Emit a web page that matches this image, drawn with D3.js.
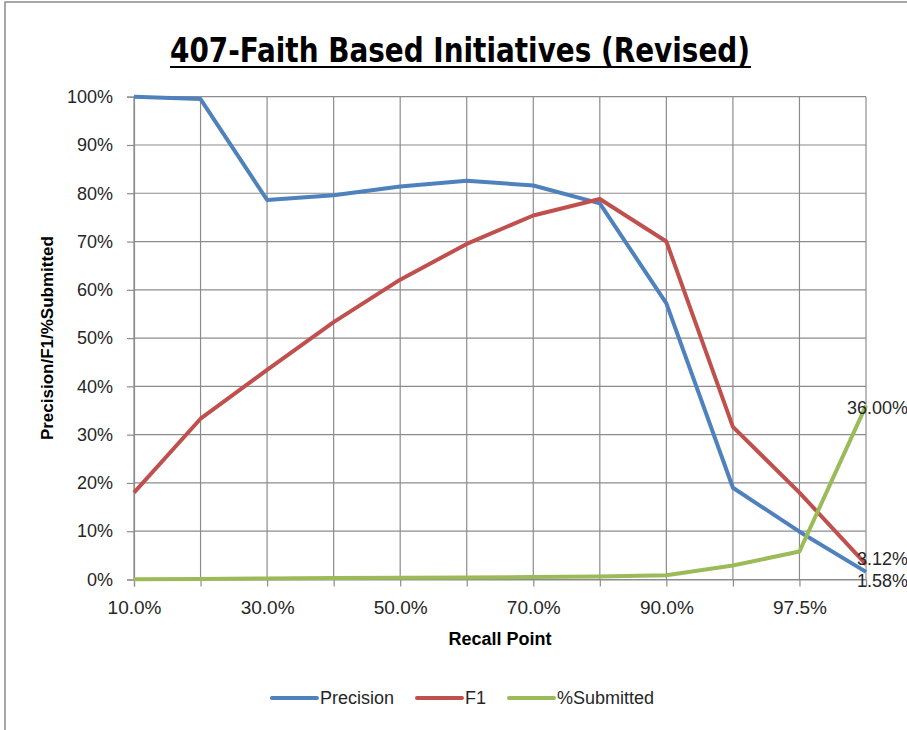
<!DOCTYPE html>
<html>
<head>
<meta charset="utf-8">
<script src="https://cdn.jsdelivr.net/npm/d3@7"></script>
<style>
  body { margin: 0; background: #fff; }
  svg { display: block; font-family: "Liberation Sans", Arial, sans-serif; }
</style>
</head>
<body>
<svg width="907" height="730"></svg>
<script>
// Data (values in %)
var categories = ["10.0%", "20.0%", "30.0%", "40.0%", "50.0%", "60.0%", "70.0%", "80.0%", "90.0%", "95.0%", "97.5%", "100.0%"];
var precision = [100, 99.5, 78.6, 79.6, 81.4, 82.6, 81.6, 77.9, 57.2, 19.0, 9.9, 1.58];
var f1 = [18.0, 33.3, 43.4, 53.3, 62.1, 69.5, 75.4, 78.8, 70.0, 31.6, 18.0, 3.12];
var submitted = [0.06, 0.12, 0.22, 0.29, 0.36, 0.42, 0.50, 0.60, 0.90, 2.9, 5.8, 36.0];
var seriesNames = ["Precision", "F1", "%Submitted"];
var seriesColors = ["#4F81BD", "#C0504D", "#9BBB59"];
var yTicks = [0, 10, 20, 30, 40, 50, 60, 70, 80, 90, 100];

(function () {
    var svg = d3.select("svg");
    var width = +svg.attr("width"), height = +svg.attr("height");
    var margin = {top: 96.7, right: 41, bottom: 150.5, left: 134};
    var plotW = width - margin.left - margin.right,
        plotH = height - margin.top - margin.bottom;

    //cadre gris du graphique
    svg.append("rect")
        .attr("x", 5).attr("y", 2)
        .attr("width", width + 10).attr("height", height + 10)
        .attr("fill", "#fff")
        .attr("stroke", "#8c8c8c").attr("stroke-width", 1.5);

    //titre souligné
    svg.append("text")
        .attr("x", 460).attr("y", 62)
        .attr("text-anchor", "middle")
        .attr("font-family", "'Liberation Sans Narrow', 'DejaVu Sans Condensed', sans-serif")
        .attr("font-weight", "bold")
        .attr("font-size", 33)
        .attr("textLength", 580)
        .attr("lengthAdjust", "spacingAndGlyphs")
        .text("407-Faith Based Initiatives (Revised)");
    svg.append("line")
        .attr("x1", 170).attr("x2", 751)
        .attr("y1", 67).attr("y2", 67)
        .attr("stroke", "#000").attr("stroke-width", 2.2);

    var g = svg.append("g")
        .attr("transform", "translate(" + margin.left + "," + margin.top + ")");

    var x = d3.scalePoint().domain(categories).range([0, plotW]);
    var y = d3.scaleLinear().domain([0, 100]).range([plotH, 0]);

    //grille
    g.append("g").selectAll("line")
        .data(yTicks)
        .join("line")
        .attr("x1", 0).attr("x2", plotW)
        .attr("y1", d => y(d)).attr("y2", d => y(d))
        .attr("stroke", "#8c8c8c").attr("stroke-width", 1.2);
    g.append("g").selectAll("line")
        .data(categories)
        .join("line")
        .attr("x1", d => x(d)).attr("x2", d => x(d))
        .attr("y1", 0).attr("y2", plotH)
        .attr("stroke", "#8c8c8c").attr("stroke-width", 1.2);

    //axes
    var axeY = g.append("g")
        .call(d3.axisLeft(y).tickValues(yTicks).tickFormat(d => d + "%").tickSize(7).tickPadding(14));
    var axeX = g.append("g")
        .attr("transform", "translate(0," + plotH + ")")
        .call(d3.axisBottom(x).tickSize(7).tickPadding(14.5)
            .tickFormat((d, i) => i % 2 === 0 ? d : ""));
    [axeX, axeY].forEach(a => {
        a.select(".domain").attr("stroke", "#8c8c8c").attr("stroke-width", 1.2);
        a.selectAll(".tick line").attr("stroke", "#8c8c8c").attr("stroke-width", 1.2);
        a.selectAll("text").attr("fill", "#262626")
            .attr("font-family", "'Liberation Sans', Arial, sans-serif");
    });
    axeY.selectAll("text").attr("font-size", 18);
    axeX.selectAll("text").attr("font-size", 19);

    //titres des axes
    svg.append("text")
        .attr("x", margin.left + plotW / 2).attr("y", 645)
        .attr("text-anchor", "middle")
        .attr("font-weight", "bold").attr("font-size", 18)
        .text("Recall Point");
    svg.append("text")
        .attr("transform", "translate(53," + (margin.top + plotH / 2) + ") rotate(-90)")
        .attr("text-anchor", "middle")
        .attr("font-weight", "bold").attr("font-size", 17)
        .text("Precision/F1/%Submitted");

    //courbes
    var series = [precision, f1, submitted];
    var line = d3.line()
        .x((d, i) => x(categories[i]))
        .y(d => y(d));
    g.append("g").selectAll("path")
        .data(series)
        .join("path")
        .attr("d", line)
        .attr("fill", "none")
        .attr("stroke", (d, i) => seriesColors[i])
        .attr("stroke-width", 4)
        .attr("stroke-linejoin", "round");

    //étiquettes du dernier point, calées sur le bord droit
    var last = categories.length - 1;
    svg.append("g").selectAll("text")
        .data(series)
        .join("text")
        .attr("x", width + 1)
        .attr("y", d => margin.top + y(d[last]))
        .attr("dy", (d, i) => i === 0 ? "0.85em" : (i === 1 ? "0.05em" : "0.45em"))
        .attr("text-anchor", "end")
        .attr("font-size", 18)
        .attr("fill", "#262626")
        .text(d => d[last].toFixed(2) + "%");

    //légende
    var legende = svg.append("g").attr("transform", "translate(0,698)");
    var items = legende.selectAll("g")
        .data(seriesNames)
        .join("g");
    items.append("line")
        .attr("x1", 0).attr("x2", 45)
        .attr("stroke", (d, i) => seriesColors[i])
        .attr("stroke-width", 4).attr("stroke-linecap", "round");
    items.append("text")
        .attr("x", 48).attr("dy", "0.35em")
        .attr("font-size", 18).attr("fill", "#262626")
        .text(d => d);
    var positions = [], cursor = 0;
    items.each(function () {
        positions.push(cursor);
        cursor += 48 + this.querySelector("text").getComputedTextLength() + 23;
    });
    var total = cursor - 23;
    var start = 463 - total / 2;
    items.attr("transform", (d, i) => "translate(" + (start + positions[i]) + ",0)");
})();
</script>
</body>
</html>
